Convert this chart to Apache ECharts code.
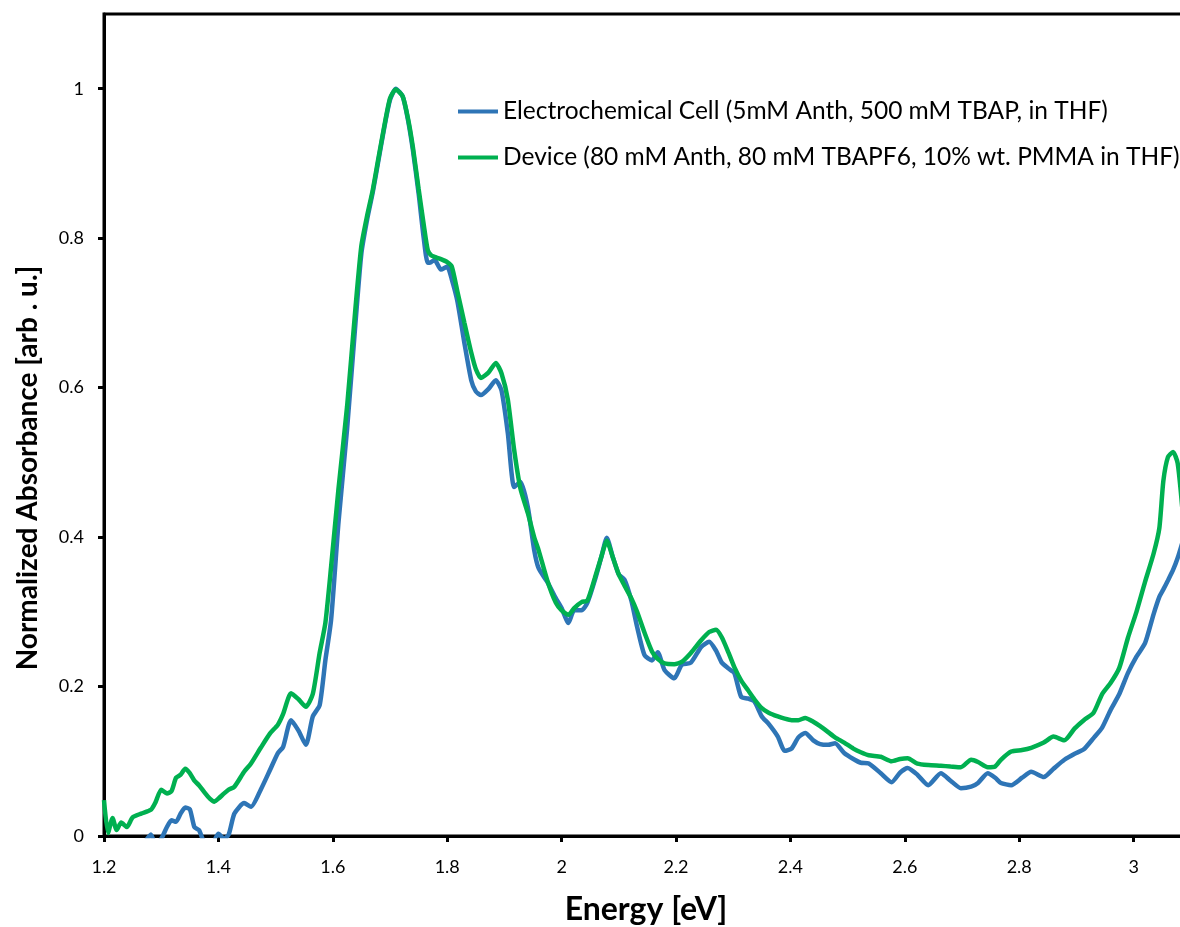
<!DOCTYPE html>
<html>
<head>
<meta charset="utf-8">
<script src="https://cdn.jsdelivr.net/npm/echarts@6/dist/echarts.min.js"></script>
<style>
  html, body { margin: 0; padding: 0; background: #fff; }
  #chart { width: 1180px; height: 927px; }
</style>
</head>
<body>
<div id="chart"></div>
<script>
// energy grid [eV]
var energy = [
  1.200, 1.207, 1.215, 1.222, 1.230, 1.240, 1.250, 1.265, 1.282, 1.290,
  1.300, 1.310, 1.318, 1.326, 1.334, 1.342, 1.350, 1.358, 1.366, 1.375,
  1.385, 1.393, 1.400, 1.410, 1.418, 1.428, 1.445, 1.457, 1.474, 1.490,
  1.504, 1.513, 1.527, 1.540, 1.553, 1.565, 1.577, 1.587, 1.597, 1.610,
  1.625, 1.640, 1.650, 1.660, 1.670, 1.680, 1.690, 1.700, 1.710, 1.722,
  1.731, 1.740, 1.750, 1.759, 1.766, 1.772, 1.778, 1.789, 1.800, 1.808,
  1.818, 1.830, 1.842, 1.850, 1.859, 1.872, 1.885, 1.895, 1.906, 1.917,
  1.928, 1.941, 1.952, 1.960, 1.975, 1.990, 2.000, 2.012, 2.022, 2.035,
  2.045, 2.058, 2.070, 2.079, 2.090, 2.100, 2.110, 2.122, 2.132, 2.145,
  2.158, 2.168, 2.180, 2.197, 2.210, 2.226, 2.244, 2.258, 2.270, 2.280,
  2.292, 2.302, 2.314, 2.326, 2.337, 2.350, 2.362, 2.378, 2.390, 2.402,
  2.414, 2.426, 2.440, 2.452, 2.466, 2.478, 2.494, 2.510, 2.523, 2.537,
  2.558, 2.577, 2.592, 2.605, 2.622, 2.641, 2.663, 2.680, 2.698, 2.716,
  2.728, 2.745, 2.758, 2.768, 2.786, 2.805, 2.821, 2.843, 2.860, 2.879,
  2.897, 2.913, 2.930, 2.945, 2.960, 2.975, 2.990, 3.005, 3.020, 3.035,
  3.045, 3.052, 3.060, 3.069, 3.077, 3.085
];

// Electrochemical Cell (blue), values below 0 are clipped by the axis
var cellValues = [
  -0.030, -0.030, -0.030, -0.030, -0.025, -0.020, -0.020, -0.015, 0.002, -0.012,
  -0.004, 0.012, 0.021, 0.019, 0.030, 0.038, 0.036, 0.012, 0.008, -0.008,
  -0.010, -0.006, 0.003, -0.004, 0.002, 0.030, 0.044, 0.039, 0.062, 0.088,
  0.111, 0.119, 0.155, 0.141, 0.122, 0.160, 0.175, 0.235, 0.289, 0.420,
  0.545, 0.690, 0.780, 0.825, 0.862, 0.905, 0.948, 0.985, 1.000, 0.990,
  0.960, 0.918, 0.860, 0.800, 0.767, 0.768, 0.771, 0.758, 0.762, 0.745,
  0.715, 0.660, 0.610, 0.595, 0.590, 0.598, 0.610, 0.596, 0.539, 0.467,
  0.474, 0.440, 0.383, 0.358, 0.340, 0.318, 0.305, 0.285, 0.302, 0.302,
  0.312, 0.342, 0.375, 0.399, 0.372, 0.350, 0.343, 0.315, 0.280, 0.242,
  0.235, 0.246, 0.222, 0.211, 0.229, 0.232, 0.253, 0.260, 0.248, 0.232,
  0.224, 0.218, 0.186, 0.184, 0.180, 0.160, 0.150, 0.133, 0.114, 0.117,
  0.132, 0.138, 0.128, 0.123, 0.122, 0.124, 0.111, 0.103, 0.098, 0.097,
  0.084, 0.072, 0.085, 0.091, 0.082, 0.068, 0.084, 0.074, 0.064, 0.066,
  0.071, 0.084, 0.078, 0.071, 0.068, 0.078, 0.086, 0.079, 0.090, 0.102,
  0.110, 0.116, 0.131, 0.145, 0.169, 0.190, 0.218, 0.240, 0.258, 0.297,
  0.320, 0.330, 0.342, 0.356, 0.372, 0.392
];

// Device (green)
var deviceValues = [
  0.048, 0.004, 0.024, 0.008, 0.018, 0.012, 0.025, 0.030, 0.035, 0.045,
  0.062, 0.057, 0.060, 0.078, 0.082, 0.090, 0.084, 0.074, 0.068, 0.059,
  0.050, 0.046, 0.050, 0.057, 0.062, 0.066, 0.086, 0.097, 0.118, 0.137,
  0.149, 0.163, 0.191, 0.183, 0.173, 0.190, 0.245, 0.285, 0.360, 0.465,
  0.575, 0.710, 0.790, 0.830, 0.865, 0.908, 0.950, 0.987, 0.999, 0.990,
  0.962, 0.922, 0.866, 0.818, 0.784, 0.777, 0.775, 0.772, 0.768, 0.762,
  0.728, 0.687, 0.647, 0.625, 0.613, 0.620, 0.633, 0.619, 0.584, 0.517,
  0.465, 0.432, 0.400, 0.382, 0.342, 0.312, 0.302, 0.296, 0.305, 0.313,
  0.315, 0.345, 0.375, 0.395, 0.372, 0.350, 0.335, 0.318, 0.300, 0.272,
  0.247, 0.237, 0.231, 0.230, 0.233, 0.245, 0.262, 0.273, 0.276, 0.266,
  0.245, 0.226, 0.208, 0.195, 0.183, 0.171, 0.165, 0.160, 0.157, 0.155,
  0.155, 0.158, 0.153, 0.147, 0.139, 0.132, 0.125, 0.117, 0.112, 0.108,
  0.106, 0.100, 0.103, 0.104, 0.097, 0.095, 0.094, 0.093, 0.092, 0.102,
  0.099, 0.092, 0.093, 0.102, 0.113, 0.115, 0.118, 0.125, 0.133, 0.128,
  0.144, 0.155, 0.165, 0.190, 0.205, 0.225, 0.265, 0.300, 0.340, 0.378,
  0.412, 0.475, 0.507, 0.514, 0.499, 0.440
];

var seriesNames = [
  'Electrochemical Cell (5mM Anth, 500 mM TBAP, in THF)',
  'Device (80 mM Anth, 80 mM TBAPF6, 10% wt. PMMA in THF)'
];

function pairs(vals) {
  var out = [];
  for (var i = 0; i < energy.length; i++) {
    out.push([energy[i], vals[i]]);
  }
  return out;
}

var myChart = echarts.init(document.getElementById('chart'), null, {renderer: 'canvas'});

var fontFam = 'Lato, "Open Sans", sans-serif';

var option = {
  animation: false,
  backgroundColor: '#fff',
  color: ['#2E75B6', '#00B050'],
  grid: {
    left: 104,
    right: -8,
    top: 14,
    bottom: 91,
    outerBoundsMode: 'none',
    containLabel: false,
    show: true,
    borderColor: '#000',
    borderWidth: 3
  },
  legend: {
    orient: 'vertical',
    left: 453,
    top: 94,
    icon: 'rect',
    itemWidth: 40,
    itemHeight: 4,
    itemGap: 21,
    textStyle: { fontFamily: fontFam, fontSize: 24.5, color: '#000' },
    data: seriesNames
  },
  xAxis: {
    type: 'value',
    min: 1.2,
    max: 1.2 + (1180 + 8 - 104) / 572,
    interval: 0.2,
    name: 'Energy [eV]',
    nameLocation: 'middle',
    nameGap: 58,
    nameTextStyle: { fontFamily: fontFam, fontSize: 32, fontWeight: 'bold', color: '#000' },
    splitLine: { show: false },
    axisLine: { onZero: false, lineStyle: { color: '#000', width: 3 } },
    axisTick: { show: true, length: 6, lineStyle: { color: '#000', width: 3 } },
    axisLabel: {
      showMaxLabel: false,
      margin: 22,
      fontFamily: fontFam,
      fontSize: 18,
      color: '#000'
    }
  },
  yAxis: {
    type: 'value',
    min: 0,
    max: 1.1,
    interval: 0.2,
    name: 'Normalized Absorbance [arb . u.]',
    nameLocation: 'middle',
    nameGap: 62,
    nameTextStyle: {
      fontFamily: fontFam, fontSize: 28, fontWeight: 'bold', color: '#000',
      padding: [0, 86, 0, 0]
    },
    splitLine: { show: false },
    axisLine: { lineStyle: { color: '#000', width: 3 } },
    axisTick: { show: true, length: 6, lineStyle: { color: '#000', width: 3 } },
    axisLabel: {
      showMaxLabel: false,
      margin: 20,
      fontFamily: fontFam,
      fontSize: 18,
      color: '#000'
    }
  },
  series: [
    {
      name: seriesNames[0],
      type: 'line',
      symbol: 'none',
      smooth: 0.2,
      clip: true,
      lineStyle: { width: 4.5, color: '#2E75B6' },
      data: pairs(cellValues)
    },
    {
      name: seriesNames[1],
      type: 'line',
      symbol: 'none',
      smooth: 0.2,
      clip: true,
      lineStyle: { width: 4.5, color: '#00B050' },
      data: pairs(deviceValues)
    }
  ]
};

myChart.setOption(option);
</script>
</body>
</html>
